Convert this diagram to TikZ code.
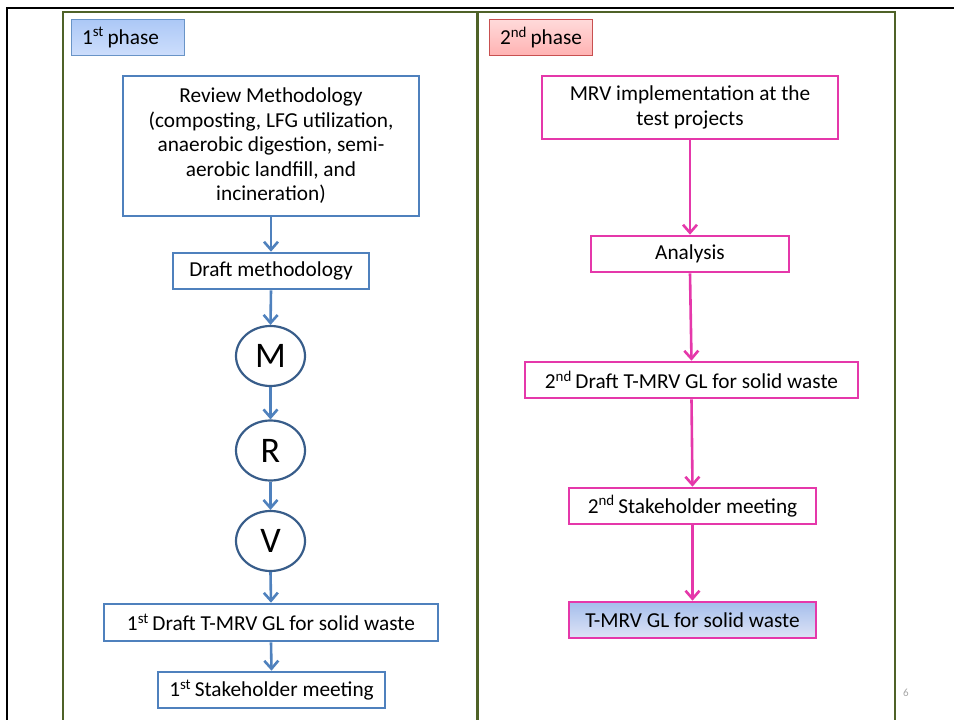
\documentclass[tikz,border=0pt]{standalone}
\usepackage{fontspec}
\setmainfont{Carlito}
\usetikzlibrary{arrows.meta,shapes.geometric}
\definecolor{bline}{RGB}{79,129,189}
\definecolor{eline}{RGB}{56,93,138}
\definecolor{mline}{RGB}{229,56,170}
\definecolor{gline}{RGB}{79,98,40}
\definecolor{ptop}{RGB}{172,200,246}
\definecolor{pbot}{RGB}{205,222,252}
\definecolor{rtop}{RGB}{255,218,218}
\definecolor{rbot}{RGB}{255,178,178}
\definecolor{rbord}{RGB}{200,80,80}
\definecolor{ftop}{RGB}{165,190,236}
\definecolor{fbot}{RGB}{222,228,246}
\tikzset{
  txt/.style={font=\fontsize{21.3}{24.5}\selectfont, align=center, inner sep=0pt},
  bbox/.style={txt, draw=bline, line width=2.6pt, fill=white},
  mbox/.style={txt, draw=mline, line width=2.6pt, fill=white},
  circ/.style={ellipse, draw=eline, line width=2.2pt, minimum width=69pt, minimum height=60pt, inner sep=0pt, font=\fontsize{36}{40}\selectfont},
  barrow/.style={draw=bline, line width=2.6pt, -{Straight Barb[length=8pt,width=14pt,line width=2.6pt]}},
  marrow/.style={draw=mline, line width=2.6pt, -{Straight Barb[length=8pt,width=14pt,line width=2.6pt]}},
}
\begin{document}
\begin{tikzpicture}[x=1pt,y=-1pt]
\useasboundingbox (0,0) rectangle (954,720);
% outer black frame
\draw[line width=2.2pt, black] (7,722) -- (7,8) -- (956,8);
% green panels
\draw[gline, line width=2.8pt] (63,725) -- (63,12) -- (895,12) -- (895,725);
\draw[gline, line width=2.8pt] (477.5,12) -- (477.5,725);
% phase labels
\node[txt, draw=bline!85, line width=1pt, top color=ptop, bottom color=pbot, minimum width=113pt, minimum height=36pt, anchor=north west, text width=100pt, align=left] (p1) at (71,19) {\hspace*{4pt}1\textsuperscript{st}\,phase};
\node[txt, draw=rbord, line width=1pt, top color=rtop, bottom color=rbot, minimum width=103pt, minimum height=36pt, anchor=north west, text width=90pt, align=left] (p2) at (489,19) {\hspace*{4pt}2\textsuperscript{nd}\,phase};
% left column
\node[bbox, minimum width=296pt, minimum height=140pt] (rev) at (271,146) {Review Methodology\\(composting, LFG utilization,\\anaerobic digestion, semi-\\aerobic landfill, and\\incineration)};
\node[bbox, minimum width=196pt, minimum height=36pt] (dm) at (271,271) {Draft methodology};
\node[circ] (M) at (270.5,356) {M};
\node[circ] (R) at (270.5,450.5) {R};
\node[circ] (V) at (270.5,541) {V};
\node[bbox, minimum width=334pt, minimum height=37pt] (d1) at (271,622.5) {1\textsuperscript{st}\,Draft T-MRV GL for solid waste};
\node[bbox, minimum width=227pt, minimum height=36pt] (s1) at (271.5,690) {1\textsuperscript{st}\,Stakeholder meeting};
\draw[barrow] (rev.south) -- (dm.north);
\draw[barrow] (dm.south) -- (M.north);
\draw[barrow] (M.south) -- (R.north);
\draw[barrow] (R.south) -- (V.north);
\draw[barrow] (V.south) -- (d1.north);
\draw[barrow] (d1.south) -- (s1.north);
% right column
\node[mbox, minimum width=296pt, minimum height=63pt] (mrv) at (690,107.5) {MRV implementation at the\\test projects};
\node[mbox, minimum width=198pt, minimum height=36pt] (an) at (690,254) {Analysis};
\node[mbox, minimum width=333pt, minimum height=36pt] (d2) at (691.5,380) {2\textsuperscript{nd}\,Draft T-MRV GL for solid waste};
\node[mbox, minimum width=247pt, minimum height=36pt] (s2) at (692.5,506) {2\textsuperscript{nd}\,Stakeholder meeting};
\node[txt, draw=mline, line width=2.6pt, top color=ftop, bottom color=fbot, minimum width=247pt, minimum height=36pt] (fin) at (692.5,620) {T-MRV GL for solid waste};
\draw[marrow] (mrv.south) -- (an.north);
\draw[marrow] (an.south) -- (d2.north);
\draw[marrow] (d2.south) -- (s2.north);
\draw[marrow] (s2.south) -- (fin.north);
% page number
\node[font=\fontsize{11}{12}\selectfont, text=black!35, inner sep=0pt] (pn) at (906,693) {6};
\end{tikzpicture}
\end{document}
